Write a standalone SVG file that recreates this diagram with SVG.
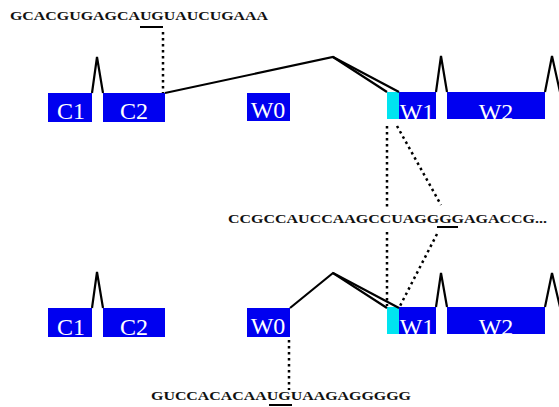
<svg xmlns="http://www.w3.org/2000/svg" width="559" height="407" viewBox="0 0 559 407">
  <style>
    .exon { fill: #0000f0; }
    .alt { fill: #00e4f0; }
    .lbl { font-family: "Liberation Serif", "Times New Roman", serif; font-size: 24px; fill: #ffffff; text-anchor: middle; }
    .seq { font-family: "Liberation Serif", "Times New Roman", serif; font-size: 13px; font-weight: bold; fill: #111111; }
    .splice { fill: none; stroke: #000000; stroke-width: 2.2; stroke-linejoin: miter; }
    .dot { fill: none; stroke: #000000; stroke-width: 2.5; stroke-dasharray: 2.5 3.5; }
    .ul { stroke: #000000; stroke-width: 2; }
  </style>
  <rect width="559" height="407" fill="#ffffff"/>

  <!-- sequences -->
  <g id="seq-top">
    <text class="seq" x="10" y="20" textLength="258" lengthAdjust="spacingAndGlyphs">GCACGUGAGCAUGUAUCUGAAA</text>
    <line class="ul" x1="140" y1="27" x2="163" y2="27"/>
  </g>
  <g id="seq-mid">
    <text class="seq" x="228" y="223" textLength="319" lengthAdjust="spacingAndGlyphs">CCGCCAUCCAAGCCUAGGGGAGACCG...</text>
    <line class="ul" x1="437" y1="227" x2="458" y2="227"/>
  </g>
  <g id="seq-bottom">
    <text class="seq" x="151" y="400" textLength="260" lengthAdjust="spacingAndGlyphs">GUCCACACAAUGUAAGAGGGGG</text>
    <line class="ul" x1="269" y1="405" x2="292" y2="405"/>
  </g>

  <!-- top transcript -->
  <g id="top-C1"><rect class="exon" x="48" y="93" width="44" height="29"/><text class="lbl" x="71" y="119">C1</text></g>
  <g id="top-C2"><rect class="exon" x="103" y="93" width="62" height="29"/><text class="lbl" x="134" y="119">C2</text></g>
  <g id="top-W0"><rect class="exon" x="247" y="93" width="43" height="28"/><text class="lbl" x="268" y="118">W0</text></g>
  <g id="top-W1"><rect class="alt" x="387" y="92" width="12" height="27"/><rect class="exon" x="399" y="92" width="37" height="27"/><text class="lbl" x="417" y="120">W1</text></g>
  <g id="top-W2"><rect class="exon" x="447" y="92" width="98" height="27"/><text class="lbl" x="496" y="120">W2</text></g>

  <!-- bottom transcript -->
  <g id="bot-C1"><rect class="exon" x="48" y="308" width="44" height="29"/><text class="lbl" x="71" y="335">C1</text></g>
  <g id="bot-C2"><rect class="exon" x="103" y="308" width="62" height="29"/><text class="lbl" x="134" y="335">C2</text></g>
  <g id="bot-W0"><rect class="exon" x="247" y="308" width="43" height="29"/><text class="lbl" x="268" y="334">W0</text></g>
  <g id="bot-W1"><rect class="alt" x="387" y="307" width="12" height="27"/><rect class="exon" x="399" y="307" width="37" height="27"/><text class="lbl" x="417" y="335">W1</text></g>
  <g id="bot-W2"><rect class="exon" x="447" y="307" width="98" height="27"/><text class="lbl" x="496" y="335">W2</text></g>

  <g id="connectors">
    <!-- splice junctions, top -->
    <polyline class="splice" points="92,93 97,57 103,93"/>
    <polyline class="splice" points="165,93 333,57 387,92"/>
    <polyline class="splice" points="333,57 399,92"/>
    <polyline class="splice" points="436,92 441,56 447,92"/>
    <polyline class="splice" points="545,92 552,56 560,92"/>
    <!-- splice junctions, bottom -->
    <polyline class="splice" points="92,308 97,272 103,308"/>
    <polyline class="splice" points="290,308 333,273 387,308"/>
    <polyline class="splice" points="333,273 399,308"/>
    <polyline class="splice" points="436,307 441,273 447,307"/>
    <polyline class="splice" points="545,307 552,273 560,307"/>
    <!-- dotted guides to sequences -->
    <line class="dot" x1="163" y1="32" x2="163" y2="93"/>
    <line class="dot" x1="387" y1="126" x2="387" y2="207"/>
    <line class="dot" x1="397" y1="126" x2="441" y2="205"/>
    <line class="dot" x1="387" y1="232" x2="387" y2="306"/>
    <line class="dot" x1="437" y1="234" x2="400" y2="306"/>
    <line class="dot" x1="289" y1="340" x2="289" y2="390"/>
  </g>
</svg>
